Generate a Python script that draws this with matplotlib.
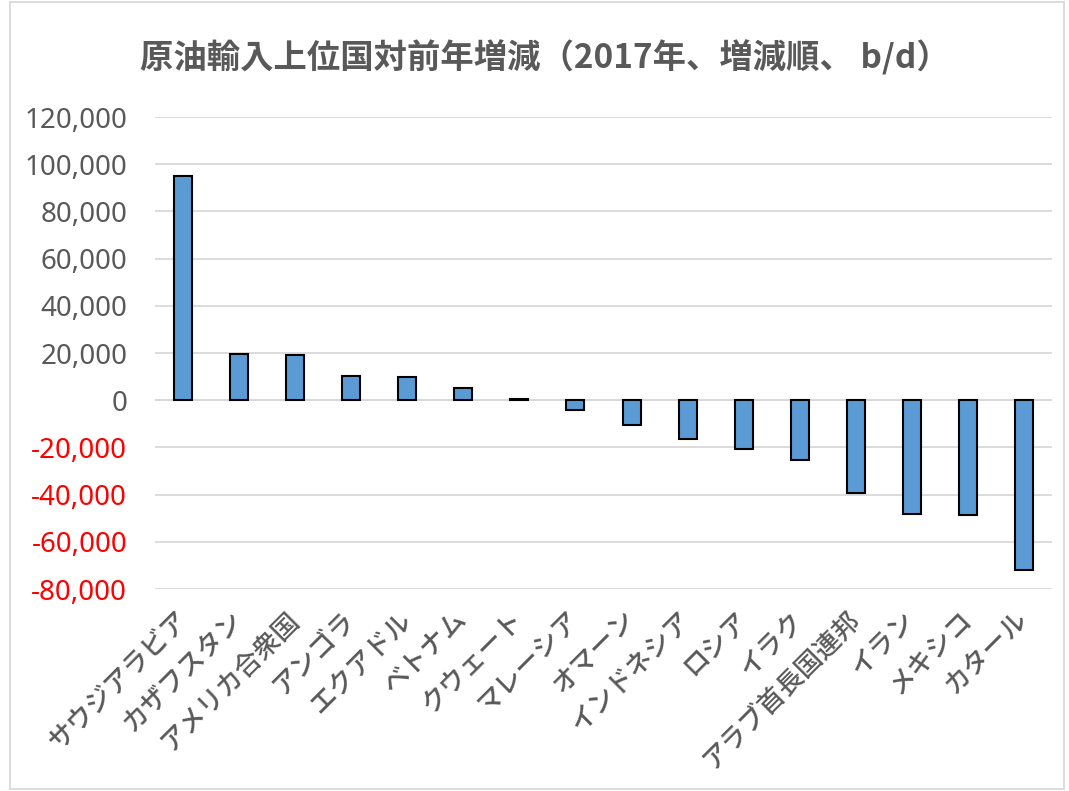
import matplotlib
matplotlib.use("Agg")
import matplotlib.pyplot as plt
from matplotlib.patches import Rectangle
from matplotlib.ticker import FuncFormatter

plt.rcParams['font.family'] = ['Noto Sans CJK JP', 'DejaVu Sans']

title = "原油輸入上位国対前年増減（2017年、増減順、 b/d）"
countries = ["サウジアラビア", "カザフスタン", "アメリカ合衆国", "アンゴラ", "エクアドル",
             "ベトナム", "クウェート", "マレーシア", "オマーン", "インドネシア",
             "ロシア", "イラク", "アラブ首長国連邦", "イラン", "メキシコ", "カタール"]
values = [95000, 19500, 19100, 10200, 9800, 5100, 300, -4300, -10600, -16500,
          -20800, -25400, -39200, -48300, -48500, -71800]
yticks = [-80000, -60000, -40000, -20000, 0, 20000, 40000, 60000, 80000, 100000, 120000]

W, H = 1069, 791
fig = plt.figure(figsize=(W / 100, H / 100), dpi=100)
ax = fig.add_axes([155 / W, 1 - 589 / H, (1052 - 155) / W, (589 - 117) / H])

x = list(range(len(countries)))
ax.bar(x, values, width=0.32, color="#5B9BD5", edgecolor="black", linewidth=1.5, zorder=3)

ax.set_xlim(-0.5, len(countries) - 0.5)
ax.set_ylim(-80000, 120000)
ax.set_yticks(yticks)
ax.yaxis.set_major_formatter(FuncFormatter(lambda v, p: f"{int(v):,}"))
ax.grid(axis="y", color="#d9d9d9", linewidth=1.3, zorder=0)
ax.axhline(0, color="#d9d9d9", linewidth=1.3, zorder=1)
for s in ax.spines.values():
    s.set_visible(False)
ax.tick_params(axis="both", length=0)
ax.tick_params(axis="y", pad=20)

for lab, v in zip(ax.get_yticklabels(), yticks):
    lab.set_fontfamily("Noto Sans")
    lab.set_fontsize(20)
    lab.set_color("#FF0000" if v < 0 else "#595959")

ax.set_xticks(x)
ax.set_xticklabels(countries, rotation=45, ha="right", va="center",
                   rotation_mode="anchor", fontsize=19, color="#595959",
                   fontweight="medium")
ax.tick_params(axis="x", pad=19)

fig.text(545 / W, 1 - 58 / H, title, ha="center", va="center", fontsize=24,
         fontweight="bold", color="#595959")

fig.patches.append(Rectangle((10 / W, 2 / H), (1064 - 10) / W, (789 - 2) / H,
                             transform=fig.transFigure, fill=False,
                             edgecolor="#d9d9d9", linewidth=1.3))

fig.savefig("out.png", dpi=100, facecolor="white")
